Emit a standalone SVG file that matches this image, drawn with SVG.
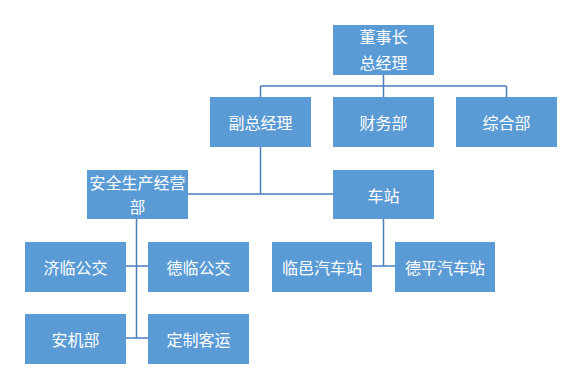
<svg xmlns="http://www.w3.org/2000/svg" width="578" height="383" viewBox="0 0 578 383">
<style>
.box{fill:#5B9BD5;}
.t{fill:#fff;font-family:"Noto Sans CJK SC","Microsoft YaHei",sans-serif;font-size:16px;text-anchor:middle;dominant-baseline:central;}
.ln{fill:none;stroke:#4A7EBB;stroke-width:1.5;}
</style>
<rect width="578" height="383" fill="#fff"/>
<g id="connectors">
<path class="ln" d="M383.5 75V86M260.5 86H506.5M260.5 86V97M383.5 86V97M506.5 86V97"/>
<path class="ln" d="M260.5 147V194M188 194H333"/>
<path class="ln" d="M136.5 219V338M126 266H148M126 338H148"/>
<path class="ln" d="M383.5 219V266M371 266H395"/>
</g>
<g id="n1"><rect class="box" x="333" y="25" width="101" height="50"/><text class="t" x="383.5" y="36">董事长</text><text class="t" x="383.5" y="62">总经理</text></g>
<g id="n2"><rect class="box" x="210" y="97" width="101" height="50"/><text class="t" x="260.5" y="122">副总经理</text></g>
<g id="n3"><rect class="box" x="333" y="97" width="101" height="50"/><text class="t" x="383.5" y="122">财务部</text></g>
<g id="n4"><rect class="box" x="456" y="97" width="101" height="50"/><text class="t" x="506.5" y="122">综合部</text></g>
<g id="n5"><rect class="box" x="87" y="170" width="101" height="49"/><text class="t" x="137.5" y="182">安全生产经营</text><text class="t" x="137.5" y="206" style="font-size:15.5px">部</text></g>
<g id="n6"><rect class="box" x="333" y="170" width="101" height="49"/><text class="t" x="383.5" y="194.5">车站</text></g>
<g id="n7"><rect class="box" x="25" y="242" width="101" height="50"/><text class="t" x="75.5" y="267">济临公交</text></g>
<g id="n8"><rect class="box" x="148" y="242" width="101" height="50"/><text class="t" x="198.5" y="267">德临公交</text></g>
<g id="n9"><rect class="box" x="25" y="314" width="101" height="50"/><text class="t" x="75.5" y="339">安机部</text></g>
<g id="n10"><rect class="box" x="148" y="314" width="101" height="50"/><text class="t" x="198.5" y="339">定制客运</text></g>
<g id="n11"><rect class="box" x="272" y="242" width="100" height="50"/><text class="t" x="322" y="267">临邑汽车站</text></g>
<g id="n12"><rect class="box" x="395" y="242" width="100" height="50"/><text class="t" x="445" y="267">德平汽车站</text></g>
</svg>
